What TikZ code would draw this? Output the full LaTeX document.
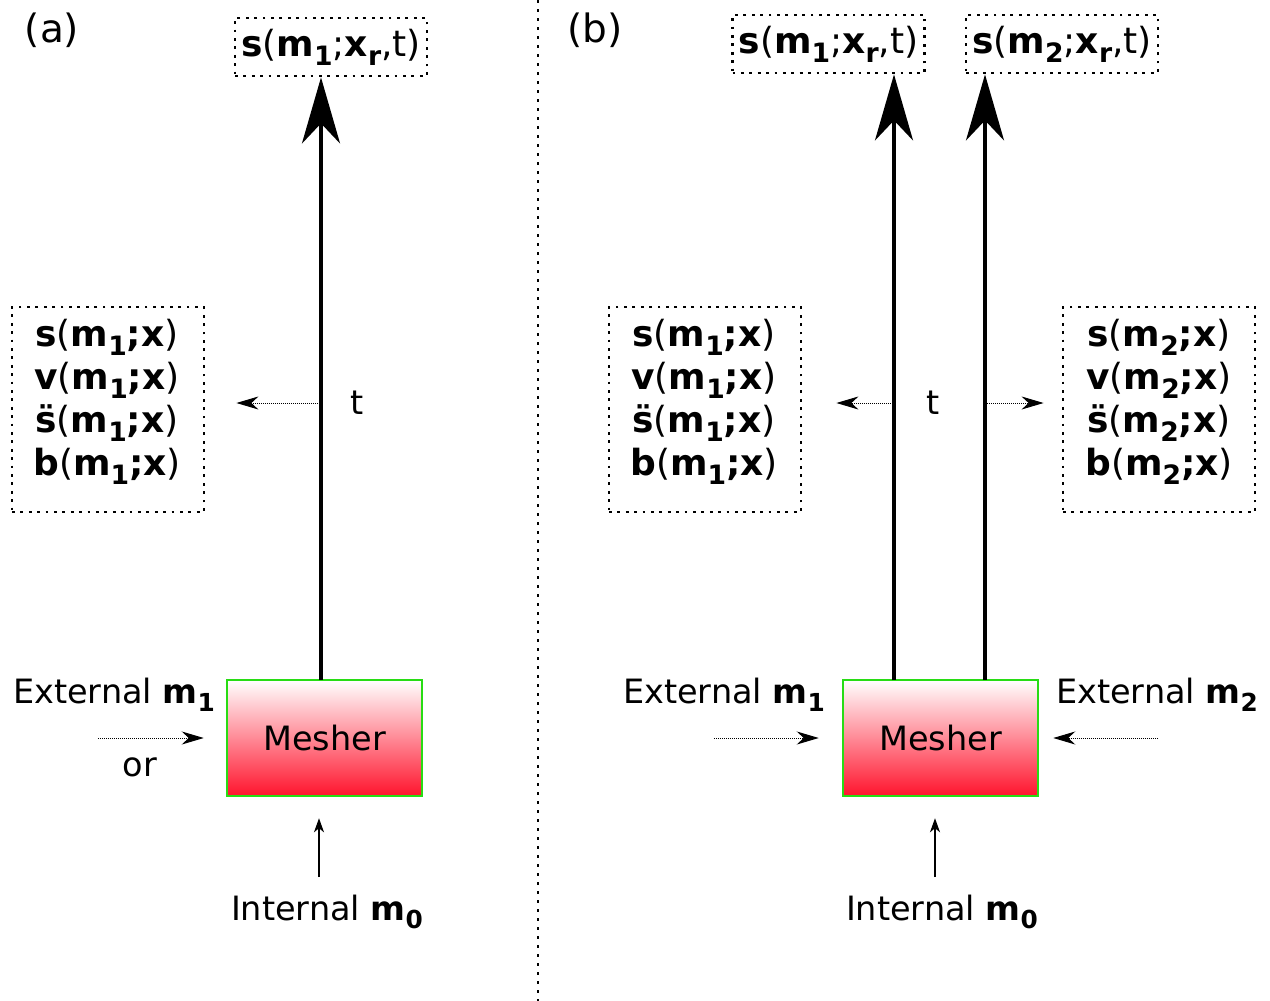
\documentclass[tikz,border=0pt]{standalone}
\usepackage{fontspec}
\setmainfont{DejaVu Sans}
\usetikzlibrary{arrows.meta,calc}
\definecolor{meshred}{RGB}{255,20,45}
\definecolor{meshgreen}{RGB}{40,220,20}
\newcommand{\sbs}[1]{\raisebox{-0.25em}{\scalebox{0.74}{#1}}}
\begin{document}
\begin{tikzpicture}[x=1pt,y=-1pt, font=\fontsize{33.5}{43}\selectfont,
  dotted box/.style={draw, line width=2.8pt, dash pattern=on 2.8pt off 5.6pt, inner sep=0pt},
  stackbox/.style={dotted box, minimum width=192pt, minimum height=205pt},
  topbox/.style={dotted box, minimum width=192pt, minimum height=58pt, font=\fontsize{36}{43}\selectfont},
  stacktext/.style={inner sep=0pt, align=center, font=\fontsize{36}{43}\selectfont},
  mesher/.style={draw=meshgreen, line width=2.5pt, top color=white, bottom color=meshred, minimum width=195pt, minimum height=116pt, inner sep=0pt},
  bigarrow/.style={line width=4pt, -{Stealth[length=66pt,width=38pt,inset=20pt]}},
  dotarrow/.style={line width=1pt, dash pattern=on 1pt off 1pt, -{Stealth[length=22pt,width=13pt,inset=7pt]}},
  thinarrow/.style={line width=1.5pt, -{Stealth[length=14pt,width=10pt,inset=4pt]}},
  lbl/.style={inner sep=0pt},
  panel/.style={inner sep=0pt, font=\fontsize{39}{43}\selectfont}
]
\useasboundingbox (0,0) rectangle (1270,1001);

% divider
\coordinate (d1) at (538,0);
\coordinate (d2) at (538,1001);
\draw[line width=2.5pt, dash pattern=on 2.5pt off 6.5pt] (d1) -- (d2);

% ---------- (a)
\node[panel] (la) at (52,30) {(a)};
\node[topbox] (ta) at (331,47) {\textbf{s}(\textbf{m\sbs{1}};\textbf{x\sbs{r}},t)};
\node[stackbox] (sa) at (108,409.5) {};
\node[stacktext] (sat) at (107,402) {\textbf{s}(\textbf{m\sbs{1};x})\\\textbf{v}(\textbf{m\sbs{1};x})\\\textbf{\"s}(\textbf{m\sbs{1};x})\\\textbf{b}(\textbf{m\sbs{1};x})};
\node[mesher] (ma) at (324.5,738) {Mesher};
\coordinate (pa) at (321,680);
\draw[bigarrow] (pa) -- (pa |- ta.south);
\coordinate (qa) at (320,403);
\draw[dotarrow, shorten >=31pt] (qa) -- (qa -| sa.east);
\node[lbl] (tta) at (357,403) {t};
\node[lbl] (ea) at (114,695) {External \textbf{m\sbs{1}}};
\coordinate (ca) at (98,738);
\draw[dotarrow, shorten >=22pt] (ca) -- (ca -| ma.west);
\node[lbl] (ora) at (140,767) {or};
\node[lbl] (ia) at (327,912) {Internal \textbf{m\sbs{0}}};
\coordinate (ka) at (319,877);
\draw[thinarrow, shorten >=21pt] (ka) -- (ka |- ma.south);

% ---------- (b)
\node[panel] (lb) at (595,30) {(b)};
\node[topbox] (tb1) at (828.5,44) {\textbf{s}(\textbf{m\sbs{1}};\textbf{x\sbs{r}},t)};
\node[topbox] (tb2) at (1062,44) {\textbf{s}(\textbf{m\sbs{2}};\textbf{x\sbs{r}},t)};
\node[stackbox] (sb1) at (705,409.5) {};
\node[stacktext] (sb1t) at (704,402) {\textbf{s}(\textbf{m\sbs{1};x})\\\textbf{v}(\textbf{m\sbs{1};x})\\\textbf{\"s}(\textbf{m\sbs{1};x})\\\textbf{b}(\textbf{m\sbs{1};x})};
\node[stackbox] (sb2) at (1159,409.5) {};
\node[stacktext] (sb2t) at (1159,402) {\textbf{s}(\textbf{m\sbs{2};x})\\\textbf{v}(\textbf{m\sbs{2};x})\\\textbf{\"s}(\textbf{m\sbs{2};x})\\\textbf{b}(\textbf{m\sbs{2};x})};
\node[mesher] (mb) at (940.5,738) {Mesher};
\coordinate (pb1) at (894,680);
\coordinate (pb2) at (985,680);
\draw[bigarrow] (pb1) -- (pb1 |- tb1.south);
\draw[bigarrow] (pb2) -- (pb2 |- tb2.south);
\coordinate (qb1) at (893,403);
\coordinate (qb2) at (987,403);
\draw[dotarrow, shorten >=34pt] (qb1) -- (qb1 -| sb1.east);
\draw[dotarrow, shorten >=18pt] (qb2) -- (qb2 -| sb2.west);
\node[lbl] (ttb) at (933,403) {t};
\node[lbl] (eb1) at (724,695) {External \textbf{m\sbs{1}}};
\node[lbl] (eb2) at (1157,695) {External \textbf{m\sbs{2}}};
\coordinate (cb1) at (714,738);
\coordinate (cb2) at (1158,738);
\draw[dotarrow, shorten >=23pt] (cb1) -- (cb1 -| mb.west);
\draw[dotarrow, shorten >=14pt] (cb2) -- (cb2 -| mb.east);
\node[lbl] (ib) at (942,912) {Internal \textbf{m\sbs{0}}};
\coordinate (kb) at (935,877);
\draw[thinarrow, shorten >=21pt] (kb) -- (kb |- mb.south);
\end{tikzpicture}
\end{document}
